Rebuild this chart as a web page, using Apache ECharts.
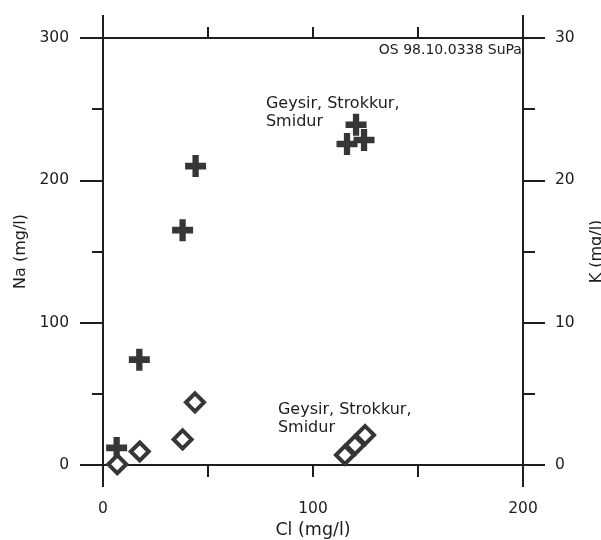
<!DOCTYPE html>
<html>
<head>
<meta charset="utf-8">
<script src="https://cdn.jsdelivr.net/npm/echarts@6/dist/echarts.min.js"></script>
<style>
  html, body { margin: 0; padding: 0; background: #ffffff; overflow: hidden; width: 601px; height: 540px; }
  #chart { width: 601px; height: 540px; position: absolute; left: 0; top: 0; }
</style>
</head>
<body>
<div id="chart"></div>
<script>
// ---- data ----
var naCl = [6.5, 17.3, 37.9, 44.1, 116.2, 120.5, 124.3];
var naVals = [12, 74, 165, 210, 225.5, 239, 228.3];
var kCl = [6.8, 17.5, 37.9, 43.8, 115.2, 120.0, 124.8];
var kVals = [0.05, 0.95, 1.8, 4.4, 0.7, 1.4, 2.1];
var xTicks = [0, 100, 200];
var naTicks = [0, 100, 200, 300];
var kTicks = [0, 10, 20, 30];
var noteTexts = ['Geysir, Strokkur,\nSmidur', 'Geysir, Strokkur,\nSmidur', 'OS 98.10.0338 SuPa'];
var noteX = [77.6, 83.3, 199.5];
var noteY = [247.5, 32.6, 291.2];

var FONT = 'DejaVu Sans';
var INK = '#1c1c1c';
var MARK = '#363636';

function zip(a, b) { return a.map(function (v, i) { return [v, b[i]]; }); }

var crossPath = 'path://M7,0H13V7H20V13H13V20H7V13H0V7H7Z';

var lineStyle = { color: '#1e1e1e', width: 2 };

var option = {
  backgroundColor: '#ffffff',
  animation: false,
  grid: { left: 103, right: 78, top: 38, bottom: 75, containLabel: false, outerBoundsMode: 'none' },
  xAxis: [
    {
      type: 'value', position: 'bottom', min: xTicks[0], max: xTicks[xTicks.length - 1], interval: 100,
      axisLine: { show: true, onZero: false, lineStyle: lineStyle },
      axisTick: { show: true, inside: false, length: 12, lineStyle: lineStyle },
      minorTick: { show: true, splitNumber: 2, length: 12, lineStyle: lineStyle },
      splitLine: { show: false }, minorSplitLine: { show: false },
      axisLabel: { show: true, margin: 36, color: INK, fontFamily: FONT, fontSize: 15.5 },
      name: 'Cl (mg/l)', nameLocation: 'middle', nameGap: 56,
      nameTextStyle: { color: INK, fontFamily: FONT, fontSize: 17.5, verticalAlign: 'top' }
    },
    {
      type: 'value', position: 'bottom', min: 0, max: 200, interval: 200,
      axisLine: { show: false, onZero: false },
      axisTick: { show: true, length: 22, lineStyle: lineStyle },
      splitLine: { show: false }, axisLabel: { show: false }
    },
    {
      type: 'value', position: 'top', min: 0, max: 200, interval: 100,
      axisLine: { show: true, onZero: false, lineStyle: lineStyle },
      axisTick: { show: true, length: 11, lineStyle: lineStyle },
      minorTick: { show: true, splitNumber: 2, length: 11, lineStyle: lineStyle },
      splitLine: { show: false }, minorSplitLine: { show: false }, axisLabel: { show: false }
    },
    {
      type: 'value', position: 'top', min: 0, max: 200, interval: 200,
      axisLine: { show: false, onZero: false },
      axisTick: { show: true, length: 23, lineStyle: lineStyle },
      splitLine: { show: false }, axisLabel: { show: false }
    }
  ],
  yAxis: [
    {
      type: 'value', position: 'left', min: naTicks[0], max: naTicks[naTicks.length - 1], interval: 100,
      axisLine: { show: true, onZero: false, lineStyle: lineStyle },
      axisTick: { show: true, length: 23, lineStyle: lineStyle },
      minorTick: { show: true, splitNumber: 2, length: 11, lineStyle: lineStyle },
      splitLine: { show: false }, minorSplitLine: { show: false },
      axisLabel: { show: true, margin: 34, color: INK, fontFamily: FONT, fontSize: 15.5 },
      name: 'Na (mg/l)', nameLocation: 'middle', nameGap: 73, nameRotate: 90,
      nameTextStyle: { color: INK, fontFamily: FONT, fontSize: 16 }
    },
    {
      type: 'value', position: 'right', min: kTicks[0], max: kTicks[kTicks.length - 1], interval: 10,
      axisLine: { show: true, onZero: false, lineStyle: lineStyle },
      axisTick: { show: true, length: 22, lineStyle: lineStyle },
      minorTick: { show: true, splitNumber: 2, length: 12, lineStyle: lineStyle },
      splitLine: { show: false }, minorSplitLine: { show: false },
      axisLabel: { show: true, margin: 32, color: INK, fontFamily: FONT, fontSize: 15.5 },
      name: 'K (mg/l)', nameLocation: 'middle', nameGap: 66, nameRotate: 90,
      nameTextStyle: { color: INK, fontFamily: FONT, fontSize: 16 }
    }
  ],
  series: [
    {
      name: 'Na', type: 'scatter', xAxisIndex: 0, yAxisIndex: 0,
      data: zip(naCl, naVals),
      symbol: crossPath, symbolSize: [21, 22], symbolKeepAspect: false,
      itemStyle: { color: MARK, opacity: 1 }, z: 3
    },
    {
      name: 'K', type: 'scatter', xAxisIndex: 0, yAxisIndex: 1,
      data: zip(kCl, kVals),
      symbol: 'diamond', symbolSize: 18,
      itemStyle: { color: '#ffffff', borderColor: MARK, borderWidth: 4, opacity: 1 }, z: 3
    },
    {
      name: 'notes', type: 'scatter', xAxisIndex: 0, yAxisIndex: 0, silent: true,
      symbolSize: 0,
      itemStyle: { opacity: 1 },
      data: noteTexts.map(function (t, i) {
        return {
          value: [noteX[i], noteY[i]],
          itemStyle: { opacity: 1 },
          label: {
            show: true, formatter: t, distance: 0,
            position: i === 2 ? 'left' : 'right',
            align: i === 2 ? 'right' : 'left',
            verticalAlign: 'middle',
            color: INK, opacity: 1, fontFamily: FONT,
            fontSize: i === 2 ? 14 : 16, lineHeight: 18
          }
        };
      }),
      z: 4
    }
  ]
};

var chart = echarts.init(document.getElementById('chart'), null, { renderer: 'canvas', width: 601, height: 540 });
chart.setOption(option);
</script>
</body>
</html>
